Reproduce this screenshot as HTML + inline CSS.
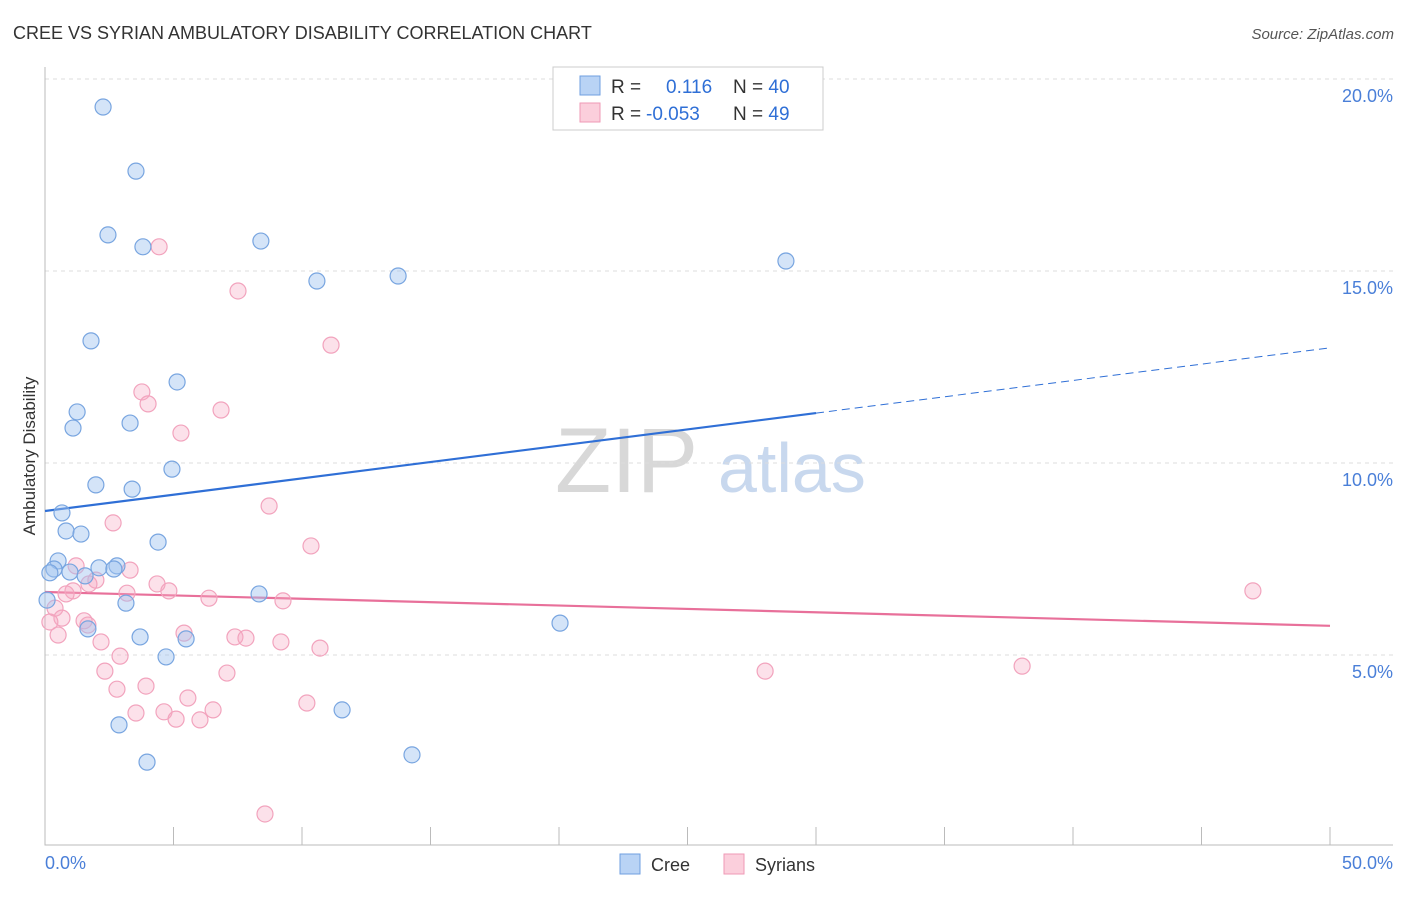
<!DOCTYPE html>
<html><head><meta charset="utf-8"><style>
body{margin:0;background:#fff;font-family:"Liberation Sans",sans-serif;}
svg text{font-family:"Liberation Sans",sans-serif;}
</style></head><body>
<svg id="chart" width="1406" height="892">
<text x="13" y="39" font-size="18" fill="#333">CREE VS SYRIAN AMBULATORY DISABILITY CORRELATION CHART</text>
<text x="1394" y="39" font-size="15" fill="#555" font-style="italic" text-anchor="end">Source: ZipAtlas.com</text>
<text x="35" y="456" font-size="17" fill="#333" text-anchor="middle" transform="rotate(-90 35 456)">Ambulatory Disability</text>
<text x="555" y="492" font-size="92" fill="#d8d8d8" font-family="Liberation Serif">ZIP</text>
<text x="718" y="492" font-size="70" fill="#c8d8ee">atlas</text>
<g id="grid"></g><g id="axes"></g><g id="trend"></g><g id="points"></g>
<g>
<rect x="553" y="67" width="270" height="63" fill="#fff" stroke="#ccc"/>
<rect x="580" y="76" width="20" height="19" fill="#b9d3f5" stroke="#6f9fe0"/>
<rect x="580" y="103" width="20" height="19" fill="#fbcfdc" stroke="#ef9ab6"/>
<text x="611" y="93" font-size="19" fill="#333">R = <tspan x="666" fill="#2f6fd6">0.116</tspan><tspan x="733" fill="#333">N = </tspan><tspan fill="#2f6fd6">40</tspan></text>
<text x="611" y="120" font-size="19" fill="#333">R = <tspan x="646" fill="#2f6fd6">-0.053</tspan><tspan x="733" fill="#333">N = </tspan><tspan fill="#2f6fd6">49</tspan></text>
</g>
<g>
<rect x="620" y="854" width="20" height="20" fill="#b9d3f5" stroke="#6f9fe0"/>
<text x="651" y="871" font-size="18" fill="#333">Cree</text>
<rect x="724" y="854" width="20" height="20" fill="#fbcfdc" stroke="#ef9ab6"/>
<text x="755" y="871" font-size="18" fill="#333">Syrians</text>
</g>
</svg>
<script>
const yTicks=[5,10,15,20];
const yTickLabels=["5.0%","10.0%","15.0%","20.0%"];
const xTickVals=[0,5,10,15,20,25,30,35,40,45,50];
const creeX=[2.26,3.54,2.45,3.81,8.40,10.58,13.74,28.83,1.79,5.14,1.25,1.09,3.31,4.94,1.98,3.39,0.66,0.82,1.40,4.40,0.51,0.35,0.19,0.97,2.10,2.80,2.68,1.56,8.33,3.15,0.08,1.67,3.70,5.49,4.71,20.04,11.56,2.88,3.97,14.28];
const creeY=[19.27,17.60,15.94,15.63,15.78,14.74,14.87,15.26,13.18,12.11,11.33,10.91,11.04,9.84,9.43,9.32,8.70,8.23,8.15,7.94,7.45,7.24,7.14,7.16,7.27,7.32,7.24,7.06,6.59,6.35,6.43,5.68,5.47,5.42,4.95,5.83,3.57,3.18,2.21,2.40];
const syrX=[4.44,7.51,11.13,3.77,4.01,6.85,5.29,8.72,2.65,10.35,1.21,3.31,1.98,1.71,4.36,1.09,4.82,3.19,6.38,9.26,0.82,0.39,0.66,0.19,1.52,1.67,0.51,5.41,7.39,7.82,2.18,9.18,10.70,2.92,2.33,7.08,2.80,3.93,5.56,10.19,4.63,3.54,6.54,5.10,6.03,8.56,28.02,38.02,47.00];
const syrY=[15.63,14.48,13.07,11.85,11.54,11.38,10.78,8.88,8.44,7.84,7.32,7.21,6.95,6.85,6.85,6.67,6.67,6.61,6.48,6.41,6.59,6.22,5.96,5.86,5.89,5.78,5.52,5.57,5.47,5.44,5.34,5.34,5.18,4.97,4.58,4.53,4.11,4.19,3.88,3.75,3.52,3.49,3.57,3.33,3.31,0.86,4.58,4.71,6.67];
const creeTrend=[8.75,11.3,13.0]; // at x=0, 30, 50
const creeTrendX=[0,30,50];
const syrTrend=[6.64,5.76];
const syrTrendX=[0,50];

const NS="http://www.w3.org/2000/svg";
const X=v=>45+v*25.7;
const Y=v=>847-v*38.4;
function mk(parent,tag,attrs){const e=document.createElementNS(NS,tag);for(const k in attrs)e.setAttribute(k,attrs[k]);document.getElementById(parent).appendChild(e);return e;}
yTicks.forEach((t,i)=>{
 const l=mk('grid','line',{x1:45,x2:1393,y1:Y(t),y2:Y(t),stroke:'#ddd','stroke-dasharray':'4,4'});
 
 
 const tx=mk('grid','text',{x:1393,y:Y(t)+23,'font-size':18,fill:'#4a7fd8','text-anchor':'end'});
 tx.textContent=yTickLabels[i];
 
 
});
const ax=mk('axes','path',{d:'M45 67 V845 H1393',stroke:'#bbb',fill:'none'});


xTickVals.forEach(t=>{
 const l=mk('axes','line',{x1:X(t),x2:X(t),y1:827,y2:845,stroke:'#bbb'});
 
 
});
const x0=mk('axes','text',{x:45,y:869,'font-size':18,fill:'#4a7fd8'});x0.textContent='0.0%';


const x1=mk('axes','text',{x:1393,y:869,'font-size':18,fill:'#4a7fd8','text-anchor':'end'});x1.textContent='50.0%';



syrX.forEach((v,i)=>{
 const c=mk('points','circle',{cx:X(v),cy:Y(syrY[i]),r:8,fill:'rgba(246,170,195,0.35)',stroke:'#f2a3bd','stroke-width':1.2});
 
 
});
creeX.forEach((v,i)=>{
 const c=mk('points','circle',{cx:X(v),cy:Y(creeY[i]),r:8,fill:'rgba(160,195,240,0.45)',stroke:'#78a5e0','stroke-width':1.2});
 
 
});
const ct=mk('trend','line',{x1:X(creeTrendX[0]),y1:Y(creeTrend[0]),x2:X(creeTrendX[1]),y2:Y(creeTrend[1]),stroke:'#2f6fd6','stroke-width':2.2});


const cd=mk('trend','line',{x1:X(creeTrendX[1]),y1:Y(creeTrend[1]),x2:X(creeTrendX[2]),y2:Y(creeTrend[2]),stroke:'#2f6fd6','stroke-width':1,'stroke-dasharray':'8,5'});


const st=mk('trend','line',{x1:X(syrTrendX[0]),y1:Y(syrTrend[0]),x2:X(syrTrendX[1]),y2:Y(syrTrend[1]),stroke:'#e8709a','stroke-width':2.2});


</script>
</body></html>
